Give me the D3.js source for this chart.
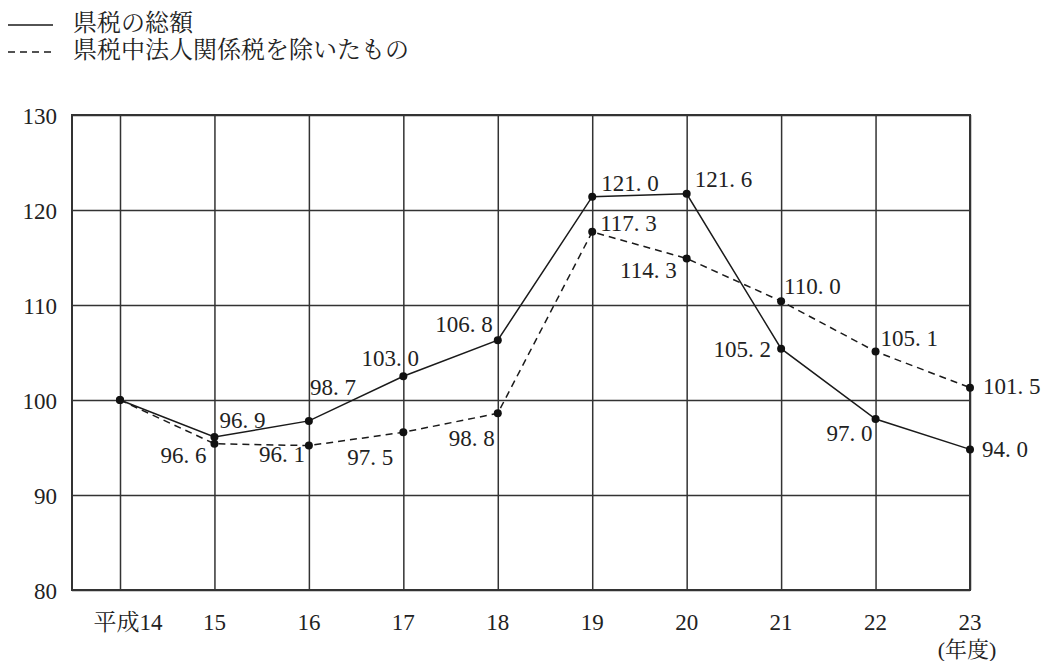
<!DOCTYPE html>
<html lang="ja">
<head>
<meta charset="utf-8">
<title>県税の推移</title>
<script src="https://d3js.org/d3.v7.min.js"></script>
<style>
  body { margin: 0; background: #fff; }
  svg text {
    font-family: "Liberation Serif", "Noto Serif CJK JP", "Noto Sans CJK JP", serif;
    fill: #222;
  }
  .grid line { stroke: #333; stroke-width: 1.5px; }
  .grid path { display: none; }
  .total { fill: none; stroke: #1a1a1a; stroke-width: 1.5px; }
  .excl { fill: none; stroke: #1a1a1a; stroke-width: 1.5px; stroke-dasharray: 7,5; }
</style>
</head>
<body>
<script>
// categories (年度)
const years = ["平成14", "15", "16", "17", "18", "19", "20", "21", "22", "23"];
// plotted positions as drawn in the chart
const totalValues = [100, 96.1, 97.8, 102.5, 106.3, 121.4, 121.7, 105.4, 98.0, 94.8];
const exclValues  = [100, 95.4, 95.2, 96.6, 98.6, 117.7, 114.9, 110.4, 105.1, 101.3];
// printed value labels
const totalLabels = [null, "96. 9", "98. 7", "103. 0", "106. 8", "121. 0", "121. 6", "105. 2", "97. 0", "94. 0"];
const exclLabels  = [null, "96. 6", "96. 1", "97. 5", "98. 8", "117. 3", "114. 3", "110. 0", "105. 1", "101. 5"];
const yTicks = [80, 90, 100, 110, 120, 130];
const seriesNames = ["県税の総額", "県税中法人関係税を除いたもの"];

// label placement: [dx, dy, anchor]
const totalPos = [null, [5, -9, "start"], [1, -26, "start"], [-13, -10, "middle"], [-5, -8, "end"],
                  [9, -6, "start"], [8, -7, "start"], [-10, 8, "end"], [-3, 22, "end"], [12, 8, "start"]];
const exclPos  = [null, [-8, 19, "end"], [-4, 16, "end"], [-10, 33, "end"], [-3, 33, "end"],
                  [8, -1, "start"], [-10, 20, "end"], [3, -7, "start"], [5, -6, "start"], [13, 6, "start"]];

const w = 1045, h = 661;
const plotL = 72, plotR = 970, plotT = 115, plotB = 590;

const svg = d3.select("body").append("svg")
  .attr("width", w)
  .attr("height", h);

const x = d3.scalePoint().domain(years).range([120, plotR]);
const y = d3.scaleLinear().domain([80, 130]).range([plotB, plotT]);

// horizontal grid + y labels
svg.append("g")
  .attr("class", "grid")
  .attr("transform", "translate(" + plotL + ",0)")
  .call(d3.axisLeft(y).tickValues(yTicks).tickSizeInner(-(plotR - plotL)).tickSizeOuter(0).tickPadding(15))
  .call(g => g.selectAll("text").attr("font-size", 23).attr("dy", "0.35em"));

// vertical grid
svg.append("g")
  .attr("class", "grid")
  .attr("transform", "translate(0," + plotB + ")")
  .call(d3.axisBottom(x).tickSizeInner(-(plotB - plotT)).tickSizeOuter(0).tickFormat(""));

// x labels
svg.append("g").selectAll("text")
  .data(years)
  .join("text")
  .attr("x", (d, i) => x(d) + (i === 0 ? 8 : 0))
  .attr("y", plotB + 40)
  .attr("text-anchor", "middle")
  .attr("font-size", 23)
  .text(d => d);

svg.append("text")
  .attr("x", x(years[years.length - 1]) - 3)
  .attr("y", 657)
  .attr("text-anchor", "middle")
  .attr("font-size", 22)
  .text("(年度)");

// frame
svg.append("rect")
  .attr("x", plotL).attr("y", plotT)
  .attr("width", plotR - plotL).attr("height", plotB - plotT)
  .attr("fill", "none").attr("stroke", "#333").attr("stroke-width", 2);

// lines
const line = d3.line().x((d, i) => x(years[i])).y(d => y(d));

svg.append("path").datum(exclValues).attr("class", "excl").attr("d", line);
svg.append("path").datum(totalValues).attr("class", "total").attr("d", line);

[totalValues, exclValues].forEach(vals => {
  svg.append("g").selectAll("circle")
    .data(vals)
    .join("circle")
    .attr("cx", (d, i) => x(years[i]))
    .attr("cy", d => y(d))
    .attr("r", 4)
    .attr("fill", "#111");
});

// value labels
function addLabels(vals, labels, pos) {
  svg.append("g").selectAll("text")
    .data(vals.map((v, i) => ({ v, i })).filter(d => labels[d.i]))
    .join("text")
    .attr("x", d => x(years[d.i]) + pos[d.i][0])
    .attr("y", d => y(d.v) + pos[d.i][1])
    .attr("text-anchor", d => pos[d.i][2])
    .attr("font-size", 23)
    .style("white-space", "pre")
    .text(d => labels[d.i]);
}
addLabels(totalValues, totalLabels, totalPos);
addLabels(exclValues, exclLabels, exclPos);

// legend
const legend = svg.append("g");
seriesNames.forEach((name, i) => {
  const ly = 25 + i * 27;
  legend.append("line")
    .attr("x1", 8).attr("x2", 53).attr("y1", ly).attr("y2", ly)
    .attr("stroke", "#1a1a1a").attr("stroke-width", 1.5)
    .attr("stroke-dasharray", i === 0 ? null : "7,5");
  legend.append("text")
    .attr("x", 73).attr("y", ly - 2)
    .attr("dy", "0.35em")
    .attr("font-size", 24)
    .text(name);
});
</script>
</body>
</html>
